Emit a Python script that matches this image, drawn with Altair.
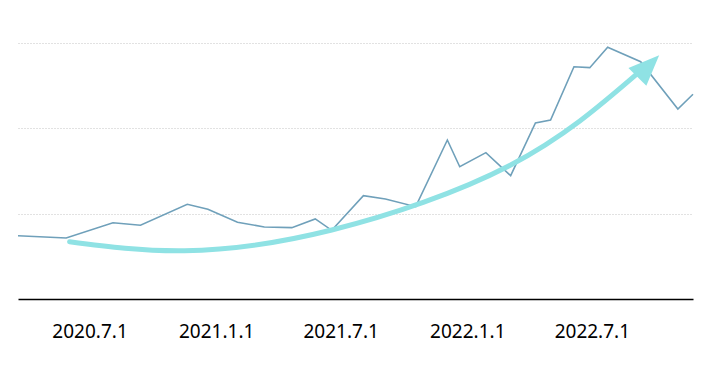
import altair as alt
import pandas as pd

# Main series (y in relative units)
dates = [
    "2020-03-19", "2020-05-28", "2020-08-04", "2020-09-13", "2020-11-20",
    "2020-12-20", "2021-02-01", "2021-03-12", "2021-04-21", "2021-05-25",
    "2021-06-18", "2021-08-03", "2021-09-04", "2021-10-18", "2021-12-03",
    "2021-12-21", "2022-01-28", "2022-03-05", "2022-04-10", "2022-05-02",
    "2022-06-05", "2022-06-28", "2022-07-24", "2022-09-10", "2022-11-03",
    "2022-11-25",
]
values = [
    0.742, 0.715, 0.894, 0.864, 1.110,
    1.051, 0.899, 0.844, 0.836, 0.938,
    0.805, 1.211, 1.172, 1.082, 1.863,
    1.550, 1.715, 1.445, 2.063, 2.098,
    2.722, 2.711, 2.950, 2.781, 2.227,
    2.399,
]

# Trend arrow annotation
arrow_dates = ["2020-06-02", "2020-11-16", "2021-06-18", "2022-03-05", "2022-09-05"]
arrow_values = [0.671, 0.566, 0.809, 1.570, 2.640]
head_dates = ["2022-09-21"]
head_values = [2.73]

tick_dates = ["2020-07-01", "2021-01-01", "2021-07-01", "2022-01-01", "2022-07-01"]
grid_values = [1, 2, 3]

LINE_COLOR = "#6fa0ba"
ARROW_COLOR = "#8fe2e4"


def to_dt(s):
    y, m, d = (int(p) for p in s.split("-"))
    return alt.DateTime(year=y, month=m, date=d)


df = pd.DataFrame({"date": [d + "T00:00:00" for d in dates], "value": values})
arrow_df = pd.DataFrame({"date": [d + "T00:00:00" for d in arrow_dates], "value": arrow_values})
head_df = pd.DataFrame({"date": [d + "T00:00:00" for d in head_dates], "value": head_values})

x_scale = alt.Scale(domain=[to_dt(dates[0]), to_dt(dates[-1])])
y_scale = alt.Scale(domain=[0, 3], nice=False, zero=True)

x_axis = alt.Axis(
    values=[to_dt(t) for t in tick_dates],
    format="%Y.%-m.%-d",
    labelFont="Noto Sans",
    labelFontSize=19,
    labelColor="#000000",
    labelPadding=23,
    labelFlush=False,
    ticks=False,
    grid=False,
    domainColor="#000000",
    domainWidth=1.5,
    title=None,
)
y_axis = alt.Axis(
    values=grid_values,
    labels=False,
    ticks=False,
    domain=False,
    grid=True,
    gridDash=[1, 2],
    gridColor="#c4c4c4",
    gridWidth=1,
    title=None,
)

line = alt.Chart(df).mark_line(color=LINE_COLOR, strokeWidth=1.6).encode(
    x=alt.X("date:T", scale=x_scale, axis=x_axis),
    y=alt.Y("value:Q", scale=y_scale, axis=y_axis),
)

arrow = alt.Chart(arrow_df).mark_line(
    color=ARROW_COLOR, strokeWidth=5, interpolate="natural", strokeCap="round"
).encode(
    x=alt.X("date:T", scale=x_scale),
    y=alt.Y("value:Q", scale=y_scale),
)

head = alt.Chart(head_df).mark_point(
    shape="M0,-1L0.82,1L-0.82,1Z",
    filled=True,
    opacity=1,
    color=ARROW_COLOR,
    size=950,
    angle=45,
).encode(
    x=alt.X("date:T", scale=x_scale),
    y=alt.Y("value:Q", scale=y_scale),
)

chart = (
    alt.layer(line, arrow, head)
    .properties(
        width=675,
        height=256,
        autosize=alt.AutoSizeParams(type="none"),
        padding={"left": 18, "top": 43, "right": 32, "bottom": 70},
        background="white",
    )
    .configure_view(stroke=None)
)

chart.save("out.html", embed_options={"renderer": "svg", "actions": False})
